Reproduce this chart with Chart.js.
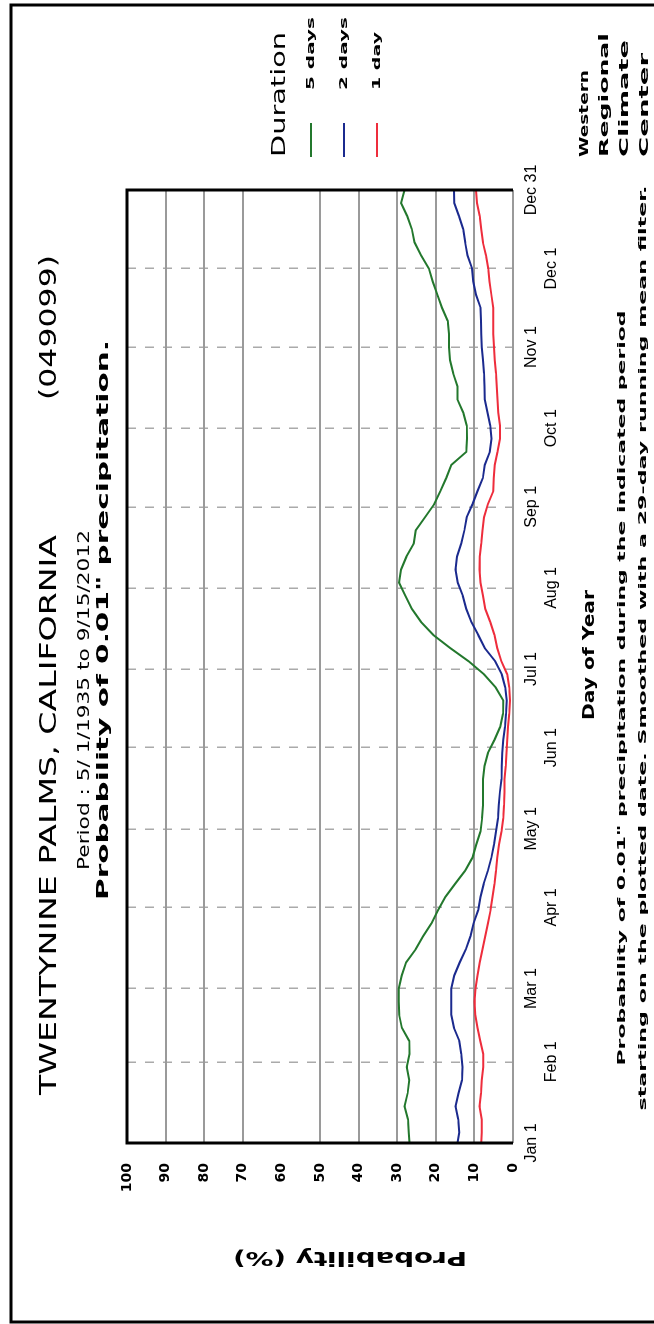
<!DOCTYPE html>
<html>
<head>
<meta charset="utf-8">
<title>Twentynine Palms - Probability of precipitation</title>
<script src="https://cdn.jsdelivr.net/npm/chart.js@4.4.1/dist/chart.umd.min.js"></script>
<style>
  html, body { margin: 0; padding: 0; background: #fff; }
  body { width: 654px; height: 1324px; overflow: hidden; position: relative; }
  /* the chart is laid out landscape and turned a quarter turn, like the scanned page */
  #wrap { position: absolute; left: 0; top: 0; width: 1324px; height: 654px;
          transform-origin: 0 0; transform: translateY(1324px) rotate(-90deg); }
</style>
</head>
<body>
<div id="wrap"><canvas id="chart" width="1324" height="654"></canvas></div>
<script>
// day of year of each sample
const days = [1, 5, 10, 15, 20, 25, 30, 35, 40, 45,
  50, 55, 60, 65, 70, 75, 80, 85, 90, 95,
  100, 105, 110, 115, 120, 125, 130, 135, 140, 145,
  150, 155, 160, 165, 170, 175, 180, 185, 190, 195,
  200, 205, 210, 215, 220, 225, 230, 235, 240, 245,
  250, 255, 260, 265, 270, 275, 280, 285, 290, 295,
  300, 305, 310, 315, 320, 325, 330, 335, 340, 345,
  350, 355, 360, 365];

// probability (%) of >= 0.01" in the period starting on that day
const fiveDays = [26.8, 27.0, 27.2, 28.1, 27.3, 26.9, 27.5, 26.8, 26.9, 28.8,
  29.5, 29.6, 29.6, 28.8, 27.7, 25.2, 23.3, 21.1, 19.4, 17.5,
  15.0, 12.4, 10.5, 9.5, 8.4, 8.0, 7.8, 7.8, 7.8, 7.4,
  6.5, 4.8, 3.3, 2.6, 2.5, 4.5, 7.5, 11.5, 16.2, 20.6,
  23.8, 26.2, 27.9, 29.5, 29.0, 27.6, 25.7, 25.2, 22.8, 20.4,
  18.8, 17.3, 16.0, 12.1, 11.9, 12.0, 12.9, 14.4, 14.4, 15.5,
  16.3, 16.6, 16.6, 16.9, 18.4, 19.6, 20.8, 21.8, 23.8, 25.5,
  26.2, 27.4, 29.0, 28.1];

const twoDays = [14.4, 13.9, 14.2, 14.9, 14.1, 13.2, 13.1, 13.4, 13.9, 15.3,
  16.0, 16.0, 16.0, 15.2, 13.8, 12.2, 11.0, 10.2, 9.0, 8.4,
  7.6, 6.5, 5.6, 4.9, 4.4, 3.9, 3.7, 3.4, 3.0, 2.9,
  2.8, 2.5, 2.1, 1.8, 1.6, 2.0, 2.9, 4.6, 7.3, 9.0,
  10.8, 12.1, 13.0, 14.3, 14.9, 14.5, 13.4, 12.6, 12.0, 10.5,
  9.2, 7.8, 7.3, 6.0, 5.6, 5.9, 6.6, 7.3, 7.4, 7.5,
  7.8, 8.1, 8.2, 8.3, 8.4, 9.6, 10.3, 10.6, 11.8, 12.4,
  12.9, 14.0, 15.2, 15.3];

const oneDay = [8.2, 8.1, 8.1, 8.7, 8.3, 8.1, 7.7, 7.7, 8.5, 9.2,
  9.8, 10.0, 9.7, 9.2, 8.6, 7.9, 7.2, 6.5, 5.8, 5.3,
  4.8, 4.4, 4.1, 3.6, 3.0, 2.5, 2.3, 2.2, 2.2, 1.9,
  1.7, 1.5, 1.3, 1.0, 0.8, 1.0, 1.5, 3.0, 4.1, 4.8,
  5.9, 7.2, 7.8, 8.4, 8.7, 8.6, 8.2, 7.9, 7.5, 6.5,
  5.1, 5.0, 4.7, 4.0, 3.4, 3.4, 3.8, 4.0, 4.2, 4.4,
  4.7, 4.9, 5.1, 5.1, 5.1, 5.6, 6.1, 6.4, 7.0, 7.8,
  8.2, 8.6, 9.3, 9.6];

const seriesNames = ['5 days', '2 days', '1 day'];
const seriesColors = ['#23782d', '#1b2a8e', '#ee2d3c'];

const monthDays = [1, 32, 60, 91, 121, 152, 182, 213, 244, 274, 305, 335, 365];
const monthLabels = ['Jan 1', 'Feb 1', 'Mar 1', 'Apr 1', 'May 1', 'Jun 1', 'Jul 1',
  'Aug 1', 'Sep 1', 'Oct 1', 'Nov 1', 'Dec 1', 'Dec 31'];
const probTicks = [0, 10, 20, 30, 40, 50, 60, 70, 80, 90, 100];

const toPoints = vals => vals.map((v, i) => ({ x: days[i], y: v }));

// draw a string stretched to a given width (the scan uses a wide pixel font)
function wideText(ctx, text, x, y, width, font, align) {
  ctx.font = font;
  const w = ctx.measureText(text).width;
  ctx.save();
  ctx.translate(x, y);
  ctx.scale(width / w, 1);
  ctx.textAlign = 'left';
  ctx.textBaseline = 'middle';
  ctx.fillStyle = '#000';
  ctx.fillText(text, align === 'center' ? -w / 2 : 0, 0);
  ctx.restore();
}

const decor = {
  id: 'decor',
  beforeDraw(chart) {
    const ctx = chart.ctx;
    ctx.save();
    ctx.fillStyle = '#fff';
    ctx.fillRect(0, 0, chart.width, chart.height);
    ctx.restore();
  },
  afterDraw(chart) {
    const { ctx, chartArea: a } = chart;
    ctx.save();
    // plot frame (the 0% side stays a grey grid line)
    ctx.strokeStyle = '#000';
    ctx.lineWidth = 3;
    ctx.beginPath();
    ctx.moveTo(a.left, a.bottom);
    ctx.lineTo(a.left, a.top);
    ctx.lineTo(a.right, a.top);
    ctx.lineTo(a.right, a.bottom);
    ctx.stroke();
    // page border
    ctx.beginPath();
    ctx.moveTo(2, 654);
    ctx.lineTo(2, 11);
    ctx.lineTo(1319, 11);
    ctx.lineTo(1319, 654);
    ctx.stroke();

    const sans = '"DejaVu Sans", sans-serif';
    // titles
    wideText(ctx, 'TWENTYNINE PALMS, CALIFORNIA', 229, 50, 560, '23px ' + sans);
    wideText(ctx, '(049099)', 924, 50, 145, '23px ' + sans);
    wideText(ctx, 'Period : 5/ 1/1935 to 9/15/2012', 454, 85, 340, '16px ' + sans);
    wideText(ctx, 'Probability of 0.01" precipitation.', 424, 104, 560, 'bold 16px ' + sans);

    // legend
    wideText(ctx, 'Duration', 1167, 280, 125, '20px ' + sans);
    const ly = [311, 344, 377];
    const lw = [73, 73, 58];
    seriesNames.forEach((n, i) => {
      ctx.strokeStyle = seriesColors[i];
      ctx.lineWidth = 2;
      ctx.beginPath();
      ctx.moveTo(1167, ly[i]);
      ctx.lineTo(1201, ly[i]);
      ctx.stroke();
      wideText(ctx, n, 1234, ly[i], lw[i], 'bold 11px ' + sans);
    });

    // axis titles and notes
    wideText(ctx, 'Day of Year', 669, 590, 130, 'bold 16px ' + sans, 'center');
    wideText(ctx, 'Probability of 0.01" precipitation during the indicated period',
      636, 622, 755, 'bold 11px ' + sans, 'center');
    wideText(ctx, 'starting on the plotted date. Smoothed with a 29-day running mean filter.',
      676, 643, 925, 'bold 11px ' + sans, 'center');
    ctx.save();
    ctx.translate(67, 350);
    ctx.rotate(-Math.PI / 2);
    wideText(ctx, 'Probability (%)', 0, 0, 234, 'bold 20px ' + sans, 'center');
    ctx.restore();

    // WRCC block
    wideText(ctx, 'Western', 1167, 585, 87, 'bold 12px ' + sans);
    wideText(ctx, 'Regional', 1167, 605, 124, 'bold 12px ' + sans);
    wideText(ctx, 'Climate', 1167, 625, 117, 'bold 12px ' + sans);
    wideText(ctx, 'Center', 1167, 645, 104, 'bold 12px ' + sans);
    ctx.restore();
  }
};

const datasets = [fiveDays, twoDays, oneDay].map((vals, i) => ({
  label: seriesNames[i],
  data: toPoints(vals),
  borderColor: seriesColors[i],
  backgroundColor: seriesColors[i],
  borderWidth: 2,
  pointRadius: 0,
  tension: 0
}));

new Chart(document.getElementById('chart'), {
  type: 'line',
  data: { datasets: datasets },
  options: {
    responsive: false,
    animation: false,
    layout: { padding: { top: 127, right: 190, left: 0, bottom: 0 } },
    plugins: {
      legend: { display: false },
      title: { display: false },
      tooltip: { enabled: false }
    },
    scales: {
      x: {
        type: 'linear',
        min: 1,
        max: 365,
        afterBuildTicks: s => { s.ticks = monthDays.map(v => ({ value: v })); },
        afterFit: s => { s.height = 141; },
        ticks: {
          autoSkip: false,
          maxRotation: 0,
          padding: 9,
          color: '#000',
          font: { family: '"Liberation Sans", Arial, sans-serif', size: 16, lineHeight: 1.25 },
          callback: v => {
            const i = monthDays.indexOf(v);
            if (i < 0) return '';
            return i % 2 ? ['', monthLabels[i]] : monthLabels[i];
          }
        },
        grid: { color: '#aaaaaa', lineWidth: 1.5, drawTicks: false },
        border: { display: false, dash: [9, 9] }
      },
      y: {
        min: 0,
        max: 100,
        afterBuildTicks: s => { s.ticks = probTicks.map(v => ({ value: v })); },
        afterFit: s => { s.width = 181; },
        ticks: {
          padding: 20,
          color: '#000',
          font: { family: '"DejaVu Sans", sans-serif', size: 14, weight: 'bold' }
        },
        grid: {
          drawTicks: false,
          lineWidth: 2,
          color: c => (c.tick && c.tick.value === 60) ? 'rgba(0,0,0,0)' : '#9a9a9a'
        },
        border: { display: false }
      }
    }
  },
  plugins: [decor]
});
</script>
</body>
</html>
